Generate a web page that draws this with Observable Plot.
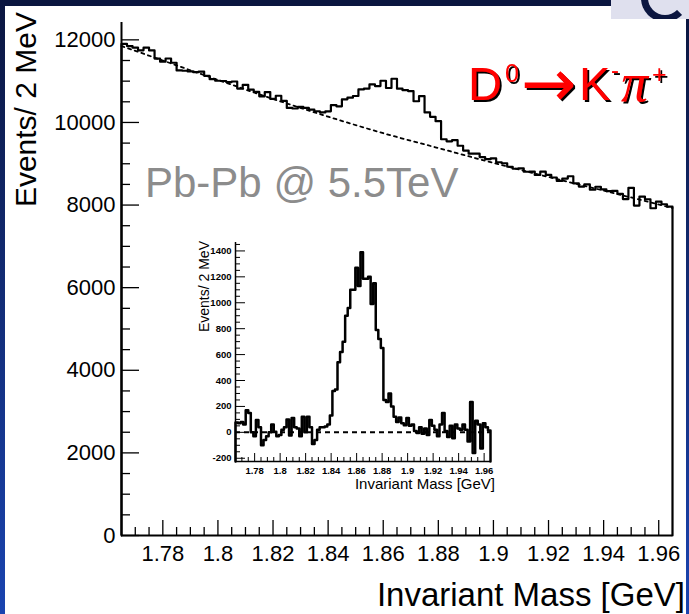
<!DOCTYPE html>
<html>
<head>
<meta charset="utf-8">
<script src="https://cdn.jsdelivr.net/npm/d3@7"></script>
<script src="https://cdn.jsdelivr.net/npm/@observablehq/plot@0.6"></script>
<style>
  html, body { margin: 0; padding: 0; background: #ffffff; }
  #wrap { position: relative; width: 689px; height: 614px; overflow: hidden; background: #ffffff; }
  #wrap svg { position: absolute; }
  .band-top { position: absolute; left: 0; top: 0; width: 689px; height: 6px; background: #0b1640; }
  .band-left { position: absolute; left: 0; top: 0; width: 5px; height: 614px; background: linear-gradient(#0b1640, #1a44b0); }
  .band-right { position: absolute; right: 0; top: 18px; width: 3px; height: 596px; background: linear-gradient(#0b1640, #1a44b0); }
  .logo { position: absolute; left: 611px; top: 0; width: 78px; height: 19px; background: #dfe0ee; overflow: hidden; }
  .logo-ring { position: absolute; left: 30px; top: -26px; width: 34px; height: 34px; border: 7px solid #0b1640; border-right-color: transparent; border-radius: 50%; }
</style>
</head>
<body>
<div id="wrap">
  <div class="band-top"></div>
  <div class="band-left"></div>
  <div class="band-right"></div>
  <div class="logo"><div class="logo-ring"></div></div>
</div>
<script>
// ---- histogram definition: 100 bins of 2 MeV between 1.765 and 1.965 GeV ----
const xMin = 1.765;
const xMax = 1.965;

// Events / 2 MeV, main (signal + combinatorial background) histogram
const mainCounts = [
  11902, 11850, 11813, 11747, 11810, 11743, 11547, 11470, 11548, 11446,
  11259, 11252, 11235, 11218, 11231, 11129, 11047, 11010, 11004, 10978,
  10992, 10821, 10910, 10794, 10738, 10632, 10736, 10570, 10647, 10524,
  10351, 10338, 10375, 10352, 10309, 10271, 10243, 10270, 10420, 10390,
  10560, 10600, 10640, 10800, 10820, 10920, 10880, 11010, 10834, 11058,
  10817, 10781, 10760, 10514, 10638, 10242, 10136, 10030, 9594, 9543,
  9572, 9436, 9320, 9244, 9243, 9162, 9111, 9130, 9036, 9012,
  8928, 8879, 8890, 8806, 8812, 8728, 8809, 8730, 8667, 8584,
  8641, 8698, 8525, 8447, 8499, 8371, 8443, 8380, 8336, 8343,
  8269, 8145, 8417, 7988, 8205, 8141, 7923, 8084, 8020, 7962
];

// Events / 2 MeV after background subtraction (inset)
const signalCounts = [
  75, 70, 80, 60, 170, 150, 0, -30, 95, 40,
  -100, -60, -30, 0, 60, 5, -30, -20, 20, 40,
  100, -25, 110, 40, 30, -30, 120, 0, 120, 40,
  -90, -60, 20, 40, 40, 45, 60, 130, 320, 330,
  540, 620, 700, 900, 960, 1100, 1100, 1270, 1130, 1390,
  1185, 1185, 1200, 990, 1150, 790, 720, 650, 250, 235,
  300, 200, 120, 80, 115, 70, 55, 110, 50, 60,
  10, -5, 40, -10, 30, -20, 95, 50, 20, -30,
  60, 150, 10, -35, 50, -45, 60, 30, 20, 60,
  20, -70, 235, -160, 90, 60, -125, 70, 40, 15
];

// fitted background (dashed curve), read at these masses
const bgMass = [1.765, 1.78, 1.80, 1.82, 1.84, 1.86, 1.88, 1.90, 1.92, 1.94, 1.965];
const bgCounts = [11850, 11500, 11030, 10570, 10140, 9740, 9380, 9020, 8680, 8350, 7930];

// tick labels
const massTicks = [1.78, 1.80, 1.82, 1.84, 1.86, 1.88, 1.90, 1.92, 1.94, 1.96];
const mainYTicks = [0, 2000, 4000, 6000, 8000, 10000, 12000];
const insetYTicks = [-200, 0, 200, 400, 600, 800, 1000, 1200, 1400];

const mainYDomain = [0, 12420];
const insetYDomain = [-225, 1465];

// ---- helpers ----
function stepPoints(counts, base) {
  const w = (xMax - xMin) / counts.length;
  const pts = [{x: xMin, y: base}];
  counts.forEach((c, i) => pts.push({x: xMin + i * w, y: c}));
  pts.push({x: xMax, y: counts[counts.length - 1]});
  pts.push({x: xMax, y: base});
  return pts;
}
const massMinor = d3.range(1, 40).map(i => 1765 + 5 * i).filter(v => v % 20 !== 0).map(v => v / 1000);
const fmtMass = d => String(d);
const fmtInt = d => d < 0 ? "-" + (-d) : String(d);
const FONT = "Liberation Sans, Arial, Helvetica, sans-serif";

// ---- main plot ----
const W = 689, H = 614, mL = 121, mR = 17, mT = 22, mB = 79;
const pW = W - mL - mR, pH = H - mT - mB;
const mainYMinor = d3.range(500, mainYDomain[1], 500).filter(v => v % 2000 !== 0);

const mainPlot = Plot.plot({
  width: W, height: H,
  marginLeft: mL, marginRight: mR, marginTop: mT, marginBottom: mB,
  style: {background: "transparent", overflow: "visible", fontFamily: FONT, color: "black"},
  x: {type: "linear", domain: [xMin, xMax]},
  y: {type: "linear", domain: mainYDomain},
  marks: [
    Plot.tickY(mainYTicks, {y: d => d, insetRight: pW - 18, stroke: "black", strokeWidth: 1.3}),
    Plot.tickY(mainYMinor, {y: d => d, insetRight: pW - 9, stroke: "black", strokeWidth: 1.3}),
    Plot.tickX(massTicks, {x: d => d, insetTop: pH - 15, stroke: "black", strokeWidth: 1.3}),
    Plot.tickX(massMinor, {x: d => d, insetTop: pH - 8, stroke: "black", strokeWidth: 1.3}),
    Plot.line(bgMass.map((m, i) => ({x: m, y: bgCounts[i]})), {
      x: "x", y: "y", curve: "monotone-x", stroke: "black", strokeWidth: 1.8, strokeDasharray: "3,4"
    }),
    Plot.line(stepPoints(mainCounts, mainYDomain[0]), {
      x: "x", y: "y", curve: "step-after", stroke: "black", strokeWidth: 2.2
    }),
    Plot.ruleX([xMin], {stroke: "black", strokeWidth: 2}),
    Plot.ruleY([mainYDomain[0]], {stroke: "black", strokeWidth: 2}),
    Plot.axisY({ticks: mainYTicks, tickSize: 0, tickPadding: 6, tickFormat: fmtInt, label: null, fontSize: 22}),
    Plot.axisX({ticks: massTicks, tickSize: 0, tickPadding: 10, tickFormat: fmtMass, label: null, fontSize: 22})
  ]
});
mainPlot.style.left = "0px";
mainPlot.style.top = "0px";
document.getElementById("wrap").appendChild(mainPlot);

const ms = d3.select(mainPlot);
const defs = ms.append("defs");
defs.append("filter").attr("id", "hardShadow")
  .attr("x", "-10%").attr("y", "-20%").attr("width", "130%").attr("height", "150%")
  .append("feDropShadow")
  .attr("dx", 2).attr("dy", 2).attr("stdDeviation", 0)
  .attr("flood-color", "#000000").attr("flood-opacity", 1);

ms.append("text")
  .attr("transform", "translate(36,12) rotate(-90)")
  .attr("text-anchor", "end").attr("font-family", FONT).attr("font-size", 30).attr("fill", "black")
  .text("Events/ 2 MeV");
ms.append("text")
  .attr("x", 685).attr("y", 606)
  .attr("text-anchor", "end").attr("font-family", FONT).attr("font-size", 33).attr("fill", "black")
  .text("Invariant Mass [GeV]");
ms.append("text")
  .attr("x", 145).attr("y", 197)
  .attr("text-anchor", "start").attr("font-family", FONT).attr("font-size", 42).attr("fill", "#8c8c8c")
  .text("Pb-Pb @ 5.5TeV");

// D0 -> K- pi+  (one text element, red with a hard black shadow)
const decay = ms.append("text")
  .attr("text-anchor", "start").attr("font-family", FONT).attr("fill", "#ff0000")
  .attr("filter", "url(#hardShadow)");
decay.append("tspan").attr("x", 468).attr("y", 100).attr("font-size", 47).text("D");
decay.append("tspan").attr("x", 505).attr("y", 82).attr("font-size", 25).text("0");
decay.append("tspan").attr("x", 521).attr("y", 106).attr("font-size", 66)
  .attr("font-family", "DejaVu Sans, sans-serif").text("\u2192");
decay.append("tspan").attr("x", 579).attr("y", 100).attr("font-size", 47).text("K");
decay.append("tspan").attr("x", 611).attr("y", 78).attr("font-size", 24).text("-");
decay.append("tspan").attr("x", 621).attr("y", 101).attr("font-size", 54)
  .attr("font-family", "Liberation Serif, DejaVu Serif, serif").attr("font-style", "italic").text("\u03c0");
decay.append("tspan").attr("x", 652).attr("y", 83).attr("font-size", 25).text("+");

// ---- inset plot ----
const iW = 330, iH = 270, iL = 55, iR = 20, iT = 12, iB = 39;
const ipW = iW - iL - iR, ipH = iH - iT - iB;
const insetYMinor = d3.range(-150, insetYDomain[1], 50).filter(v => v % 200 !== 0);

const insetPlot = Plot.plot({
  width: iW, height: iH,
  marginLeft: iL, marginRight: iR, marginTop: iT, marginBottom: iB,
  style: {background: "transparent", overflow: "visible", fontFamily: FONT, color: "black"},
  x: {type: "linear", domain: [xMin, xMax]},
  y: {type: "linear", domain: insetYDomain},
  marks: [
    Plot.tickY(insetYTicks, {y: d => d, insetRight: ipW - 10, stroke: "black", strokeWidth: 1}),
    Plot.tickY(insetYMinor, {y: d => d, insetRight: ipW - 5, stroke: "black", strokeWidth: 1}),
    Plot.tickX(massTicks, {x: d => d, insetTop: ipH - 8, stroke: "black", strokeWidth: 1}),
    Plot.tickX(massMinor, {x: d => d, insetTop: ipH - 4, stroke: "black", strokeWidth: 1}),
    Plot.ruleY([0], {stroke: "black", strokeWidth: 2, strokeDasharray: "5,4"}),
    Plot.line(stepPoints(signalCounts, insetYDomain[0]), {
      x: "x", y: "y", curve: "step-after", stroke: "black", strokeWidth: 2.5
    }),
    Plot.ruleX([xMin], {stroke: "black", strokeWidth: 1.5}),
    Plot.ruleY([insetYDomain[0]], {stroke: "black", strokeWidth: 1.5}),
    Plot.axisY({ticks: insetYTicks, tickSize: 0, tickPadding: 4, tickFormat: fmtInt, label: null,
      fontSize: 9.5, fontWeight: "bold"}),
    Plot.axisX({ticks: massTicks, tickSize: 0, tickPadding: 6, tickFormat: fmtMass, label: null,
      fontSize: 9.5, fontWeight: "bold"})
  ]
});
insetPlot.style.left = "180px";
insetPlot.style.top = "230px";
document.getElementById("wrap").appendChild(insetPlot);

const is = d3.select(insetPlot);
is.append("text")
  .attr("transform", "translate(29,11) rotate(-90)")
  .attr("text-anchor", "end").attr("font-family", FONT).attr("font-size", 14).attr("fill", "black")
  .text("Events/ 2 MeV");
is.append("text")
  .attr("x", 315).attr("y", 259)
  .attr("text-anchor", "end").attr("font-family", FONT).attr("font-size", 15).attr("fill", "black")
  .text("Invariant Mass [GeV]");
</script>
</body>
</html>
